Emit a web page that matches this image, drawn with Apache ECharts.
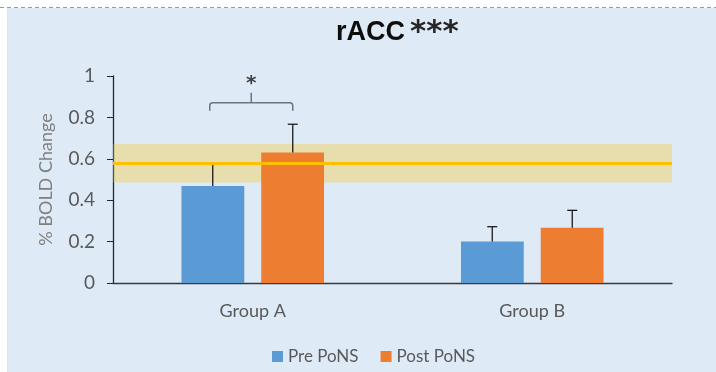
<!DOCTYPE html>
<html>
<head>
<meta charset="utf-8">
<style>
  html, body { margin: 0; padding: 0; background: #ffffff; }
  #chart { width: 716px; height: 372px; }
</style>
<script src="https://cdn.jsdelivr.net/npm/echarts@6/dist/echarts.min.js"></script>
</head>
<body>
<div id="chart"></div>
<script>
// Categories and series values
const groups = ['Group A', 'Group B'];
const seriesNames = ['Pre PoNS', 'Post PoNS'];
const preValues = [0.469, 0.201];
const postValues = [0.631, 0.267];
const preErrors = [0.106, 0.071];
const postErrors = [0.136, 0.084];
// Reference level (mean) and its band
const refMean = 0.577;
const refBand = [0.486, 0.671];
// Significance bracket between the two bars of Group A
const bracketGroup = 0;
const bracketLevel = 0.871;
const bracketLabel = '*';
const yTicks = [0, 0.2, 0.4, 0.6, 0.8, 1];

const BLUE = '#5B9BD5';
const ORANGE = '#ED7D31';
const BAR_OFFSET = 40; // half distance between paired bar centres, px

const chart = echarts.init(document.getElementById('chart'), null, { renderer: 'canvas' });

function errorItem(dir) {
  return function (params, api) {
    const i = api.value(0);
    const top = api.coord([i, api.value(1) + api.value(2)]);
    const base = api.coord([i, api.value(1)]);
    const x = top[0] + dir * BAR_OFFSET;
    return {
      type: 'group',
      children: [
        { type: 'line', shape: { x1: x, y1: base[1], x2: x, y2: top[1] },
          style: { stroke: '#1a1a1a', lineWidth: 1.3 } },
        { type: 'line', shape: { x1: x - 5, y1: top[1], x2: x + 5, y2: top[1] },
          style: { stroke: '#1a1a1a', lineWidth: 1.3 } }
      ]
    };
  };
}

const option = {
  backgroundColor: '#ffffff',
  animation: false,
  textStyle: { fontFamily: 'Lato, "Liberation Sans", sans-serif' },
  graphic: [
    { type: 'rect', z: -10, shape: { x: 8, y: 8, width: 708, height: 364 },
      style: { fill: '#DEEAF6' } },
    { type: 'line', z: -9, shape: { x1: 0, y1: 7.5, x2: 716, y2: 7.5 },
      style: { stroke: '#9a9a9a', lineWidth: 1, lineDash: [4, 3] } },
    { type: 'line', z: -9, shape: { x1: 7.5, y1: 8, x2: 7.5, y2: 372 },
      style: { stroke: '#e4e4e4', lineWidth: 1 } },
    { type: 'text', left: 336, top: 19,
      style: { text: 'rACC', fill: '#0d0d0d', font: 'bold 27px "Liberation Sans", sans-serif' } },
    { type: 'text', left: 410, top: 17,
      style: { text: '***', fill: '#262626', font: 'bold 31px "DejaVu Sans", sans-serif' } }
  ],
  legend: {
    data: seriesNames,
    left: 267, top: 343,
    icon: 'rect', itemWidth: 11, itemHeight: 11, itemGap: 22,
    textStyle: { color: '#595959', fontSize: 17, fontFamily: 'Lato, sans-serif' }
  },
  grid: { left: 113, right: 44, top: 76, bottom: 89, containLabel: false },
  xAxis: {
    type: 'category', data: groups,
    axisTick: { show: false },
    axisLine: { lineStyle: { color: '#3a3a3a', width: 1.3 } },
    axisLabel: { color: '#595959', fontSize: 18, margin: 19, fontFamily: 'Lato, sans-serif' }
  },
  yAxis: {
    type: 'value', min: 0, max: 1, interval: 0.2,
    name: '% BOLD Change', nameLocation: 'middle', nameGap: 58, nameRotate: 90,
    nameTextStyle: { color: '#7f7f7f', fontSize: 18, fontFamily: 'Lato, sans-serif' },
    axisLine: { show: true, lineStyle: { color: '#262626', width: 1.3 } },
    axisTick: { show: true, inside: false, length: 6, lineStyle: { color: '#262626' } },
    splitLine: { show: false },
    axisLabel: { color: '#595959', fontSize: 19, margin: 18, fontFamily: 'Lato, sans-serif',
      formatter: function (v) { return yTicks.indexOf(v) >= 0 ? String(v) : ''; } }
  },
  series: [
    { name: seriesNames[0], type: 'bar', data: preValues, z: 2,
      barGap: '27%', barCategoryGap: '49%', itemStyle: { color: BLUE } },
    { name: seriesNames[1], type: 'bar', data: postValues, z: 2,
      itemStyle: { color: ORANGE } },
    { type: 'custom', z: 3, silent: true,
      data: groups.map((g, i) => [i, preValues[i], preErrors[i]]),
      renderItem: errorItem(-1) },
    { type: 'custom', z: 3, silent: true,
      data: groups.map((g, i) => [i, postValues[i], postErrors[i]]),
      renderItem: errorItem(1) },
    { type: 'line', z: 5, silent: true, data: [], symbol: 'none',
      markArea: { silent: true,
        itemStyle: { color: 'rgba(255,192,0,0.3)' },
        data: [[{ yAxis: refBand[0] }, { yAxis: refBand[1] }]] },
      markLine: { silent: true, symbol: 'none', label: { show: false },
        lineStyle: { color: '#FFC000', width: 3, type: 'solid' },
        data: [{ yAxis: refMean }] } },
    { type: 'custom', z: 6, silent: true,
      data: [[bracketGroup, bracketLevel]],
      renderItem: function (params, api) {
        const c = api.coord([api.value(0), api.value(1)]);
        const x1 = c[0] - BAR_OFFSET - 3, x2 = c[0] + BAR_OFFSET, y = c[1];
        const r = 3;
        const path = 'M' + x1 + ',' + (y + 8) + ' L' + x1 + ',' + (y + r) +
          ' Q' + x1 + ',' + y + ' ' + (x1 + r) + ',' + y +
          ' L' + (x2 - r) + ',' + y + ' Q' + x2 + ',' + y + ' ' + x2 + ',' + (y + r) +
          ' L' + x2 + ',' + (y + 8) +
          ' M' + (c[0] - 1.5) + ',' + y + ' L' + (c[0] - 1.5) + ',' + (y - 10);
        return {
          type: 'group',
          children: [
            { type: 'path', shape: { pathData: path },
              style: { stroke: '#6b7480', lineWidth: 1.5, fill: null } },
            { type: 'text', x: c[0] - 1.5, y: y - 9,
              style: { text: bracketLabel, fill: '#404040', align: 'center', verticalAlign: 'bottom',
                font: 'bold 20px "DejaVu Sans", sans-serif' } }
          ]
        };
      } }
  ]
};

chart.setOption(option);
</script>
</body>
</html>
